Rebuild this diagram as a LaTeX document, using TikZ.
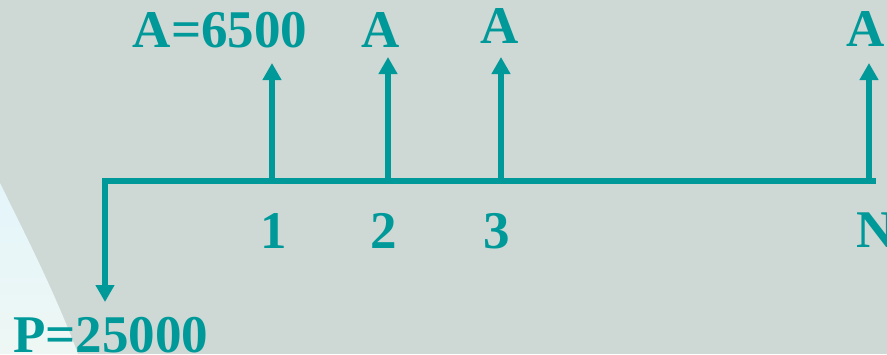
\documentclass[tikz,border=0pt]{standalone}
\usepackage{fontspec}
\setmainfont{Liberation Serif}
\usetikzlibrary{arrows.meta}
\definecolor{bggray}{RGB}{206, 216, 213}
\definecolor{cashteal}{RGB}{0, 153, 153}
\definecolor{glowtop}{RGB}{228, 245, 250}
\definecolor{glowbot}{RGB}{238, 247, 244}
\tikzset{
  % Pul oqimi chiziqlari
  timeline/.style  = {line width=6pt, draw=cashteal},
  cashflow/.style  = {line width=6pt, draw=cashteal,
                      -{Triangle[width=18pt,length=17pt]}},
  % Etiketlar
  cashlab/.style   = {text=cashteal, inner sep=0pt, anchor=base,
                      font=\fontsize{53}{60}\selectfont\bfseries},
}
\begin{document}
\begin{tikzpicture}[x=1pt,y=-1pt]
  % Fon
  \useasboundingbox (0,0) rectangle (887,354);
  \fill[bggray] (0,0) rectangle (887,354);
  \shade[top color=glowtop, bottom color=glowbot]
    (0,183) .. controls (22,228) and (55,292) .. (78,354) -- (0,354) -- cycle;
  % Vaqt o'qi
  \coordinate (t0) at (102,181);
  \coordinate (tN) at (876,181);
  \draw[timeline] (t0) -- (tN);
  % Boshlang'ich to'lov
  \coordinate (p0) at (105,178);
  \coordinate (p1) at (105,302);
  \draw[cashflow] (p0) -- (p1);
  % Yillik to'lovlar
  \coordinate (t1) at (272,181);
  \coordinate (h1) at (272,63);
  \coordinate (t2) at (388,181);
  \coordinate (h2) at (388,57);
  \coordinate (t3) at (501,181);
  \coordinate (h3) at (501,57);
  \coordinate (t4) at (869,181);
  \coordinate (h4) at (869,63);
  \draw[cashflow] (t1) -- (h1);
  \draw[cashflow] (t2) -- (h2);
  \draw[cashflow] (t3) -- (h3);
  \draw[cashflow] (t4) -- (h4);
  % Yuqori etiketlar
  \node[cashlab] (lblA1) at (220,47) {A=6500};
  \node[cashlab] (lblA2) at (381,47) {A};
  \node[cashlab] (lblA3) at (500,43) {A};
  \node[cashlab] (lblA4) at (866,46) {A};
  % Davr raqamlari
  \node[cashlab] (lbl1) at (274,248) {1};
  \node[cashlab] (lbl2) at (384,248) {2};
  \node[cashlab] (lbl3) at (497,248) {3};
  \node[cashlab, anchor=base west] (lblN) at (856,247) {N};
  \node[cashlab, anchor=base west] (lblP) at (13,352) {P=25000};
\end{tikzpicture}
\end{document}
